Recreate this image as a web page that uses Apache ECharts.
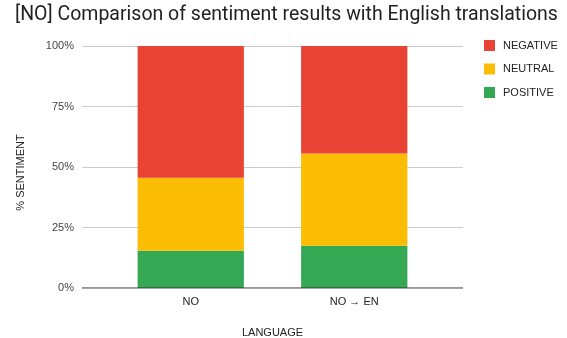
<!DOCTYPE html>
<html><head><meta charset="utf-8">
<script src="https://cdn.jsdelivr.net/npm/echarts@6/dist/echarts.min.js"></script>
<style>html,body{margin:0;padding:0;background:#fff}#c{width:567px;height:338px}</style>
</head><body><div id="c"></div>
<script>
const categories = ["NO", "NO → EN"];
const positive = [15.4, 17.5];
const neutral = [30.2, 38.1];
const negative = [54.4, 44.4];
const yTicks = [0, 25, 50, 75, 100];

const tfont = "Roboto, Arial, sans-serif";
const font = "'Liberation Sans', Arial, sans-serif";
const chart = echarts.init(document.getElementById('c'), null, {renderer: 'canvas'});
chart.setOption({
  animation: false,
  title: {text: "[NO] Comparison of sentiment results with English translations", left: 15, top: 5, padding: [0,0,0,0],
    textStyle: {fontFamily: tfont, fontSize: 19.5, fontWeight: 'normal', color: '#222'}},
  legend: {orient: 'vertical', left: 484, top: 40, padding: 0, itemWidth: 11, itemHeight: 11, itemGap: 12.5,
    icon: 'rect', data: ["NEGATIVE", "NEUTRAL", "POSITIVE"],
    textStyle: {fontFamily: font, fontSize: 11, color: '#222', padding: [0,0,0,3]}},
  grid: [
    {left: 82, right: 104, top: 46, bottom: 50, outerBoundsMode: 'none'},
    {left: 109, right: 131, top: 46, bottom: 50, outerBoundsMode: 'none'}
  ],
  xAxis: [
    {gridIndex: 0, type: 'value', min: 0, max: 1, show: false},
    {gridIndex: 1, type: 'category', data: categories,
      axisLine: {show: false}, axisTick: {show: false},
      axisLabel: {fontFamily: font, fontSize: 11, color: '#222', margin: 8},
      name: 'LANGUAGE', nameLocation: 'middle', nameGap: 39,
      nameTextStyle: {fontFamily: font, fontSize: 11, color: '#222'}}
  ],
  yAxis: [
    {gridIndex: 0, type: 'value', min: 0, max: 100, interval: 25,
      axisLabel: {fontFamily: font, fontSize: 11, color: '#444', formatter: v => yTicks.includes(v) ? v + '%' : '', margin: 8},
      axisLine: {show: false}, axisTick: {show: false},
      splitLine: {lineStyle: {color: '#cccccc', width: 1}},
      name: '% SENTIMENT', nameLocation: 'middle', nameGap: 56, nameRotate: 90,
      nameTextStyle: {fontFamily: font, fontSize: 11, color: '#222', padding: [0, 11, 0, 0]}},
    {gridIndex: 1, type: 'value', min: 0, max: 100, show: false}
  ],
  series: [
    {name: 'POSITIVE', type: 'bar', stack: 's', xAxisIndex: 1, yAxisIndex: 1, data: positive, barWidth: '65%',
      itemStyle: {color: '#34A853'}},
    {name: 'NEUTRAL', type: 'bar', stack: 's', xAxisIndex: 1, yAxisIndex: 1, data: neutral, barWidth: '65%',
      itemStyle: {color: '#FBBC04'}},
    {name: 'NEGATIVE', type: 'bar', stack: 's', xAxisIndex: 1, yAxisIndex: 1, data: negative, barWidth: '65%',
      itemStyle: {color: '#EA4335'}},
    {type: 'line', xAxisIndex: 0, yAxisIndex: 0, data: [[0,0],[1,0]], symbol: 'none', silent: true,
      lineStyle: {color: '#333', width: 1}, z: 5}
  ]
});
</script></body></html>
